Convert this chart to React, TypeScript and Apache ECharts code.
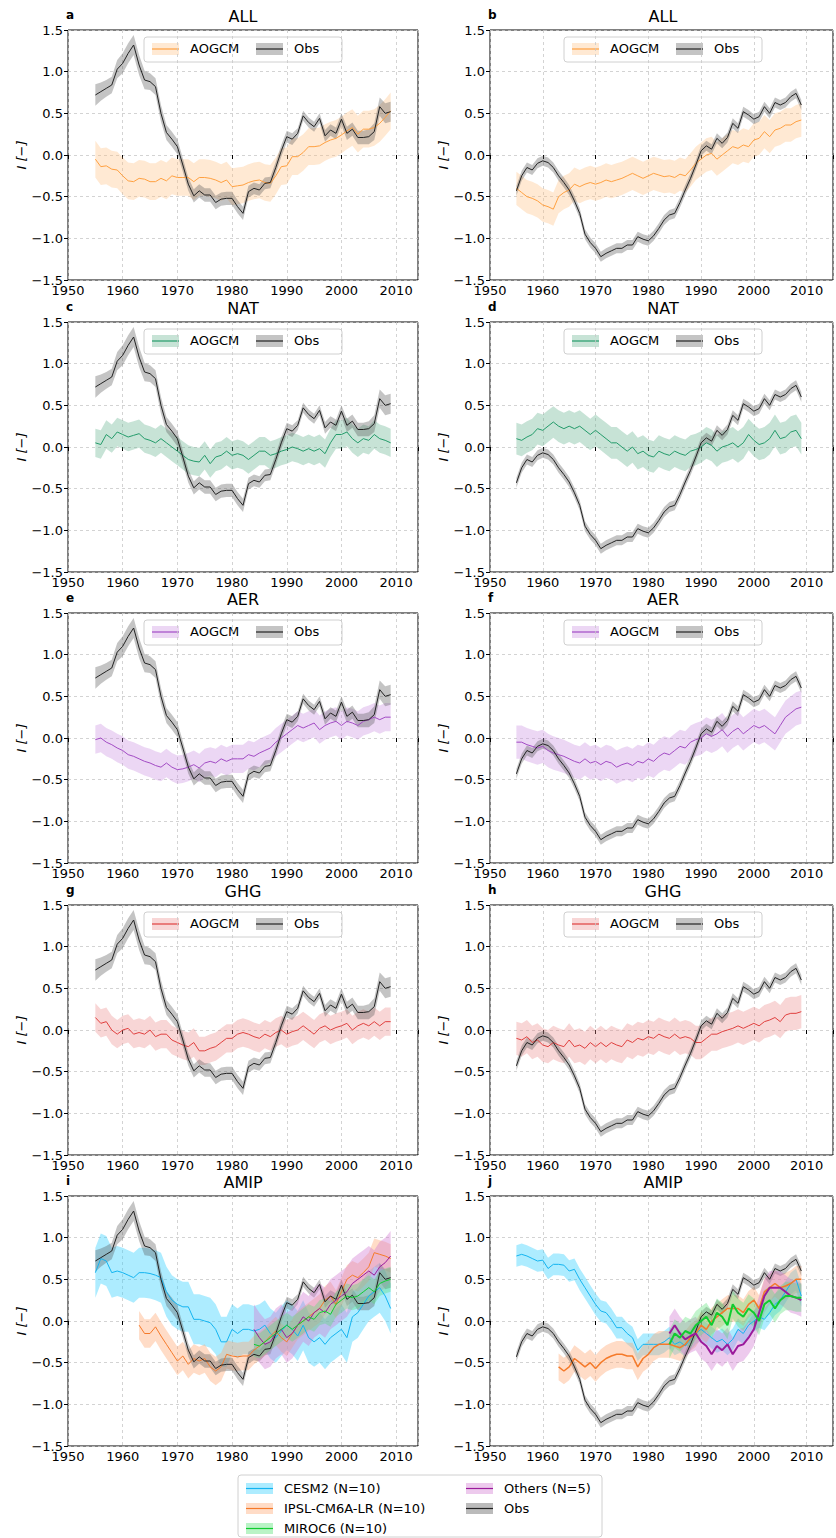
import React, { useEffect, useRef } from "react";
import * as echarts from "echarts";

const START = 1955;
// Observations (left column panels a,c,e,g,i and right column b,d,f,h,j)
const obsLeft = [0.72, 0.76, 0.8, 0.84, 1.03, 1.1, 1.22, 1.32, 1.08, 0.9, 0.88, 0.82, 0.5, 0.27, 0.19, 0.1, -0.12, -0.35, -0.49, -0.43, -0.48, -0.48, -0.57, -0.53, -0.52, -0.52, -0.62, -0.7, -0.44, -0.4, -0.42, -0.34, -0.33, -0.15, 0.05, 0.22, 0.19, 0.26, 0.47, 0.39, 0.34, 0.44, 0.23, 0.3, 0.26, 0.43, 0.26, 0.31, 0.21, 0.21, 0.22, 0.28, 0.58, 0.5, 0.52];
const obsLeftHalf = [0.13, 0.11, 0.1, 0.1, 0.11, 0.12, 0.12, 0.12, 0.12, 0.11, 0.1, 0.1, 0.1, 0.09, 0.09, 0.09, 0.08, 0.08, 0.08, 0.08, 0.08, 0.08, 0.08, 0.08, 0.08, 0.08, 0.08, 0.08, 0.07, 0.07, 0.07, 0.07, 0.07, 0.07, 0.07, 0.07, 0.07, 0.06, 0.06, 0.06, 0.06, 0.06, 0.07, 0.07, 0.07, 0.07, 0.08, 0.08, 0.08, 0.08, 0.09, 0.1, 0.11, 0.12, 0.12];
const obsRight = [-0.43, -0.25, -0.15, -0.18, -0.1, -0.07, -0.09, -0.15, -0.25, -0.33, -0.42, -0.55, -0.7, -0.95, -1.05, -1.12, -1.22, -1.18, -1.15, -1.12, -1.12, -1.08, -1.08, -0.98, -1.01, -1.03, -0.97, -0.88, -0.78, -0.72, -0.7, -0.57, -0.42, -0.28, -0.12, 0.05, 0.11, 0.07, 0.2, 0.14, 0.21, 0.38, 0.32, 0.52, 0.48, 0.43, 0.46, 0.58, 0.5, 0.63, 0.6, 0.63, 0.7, 0.74, 0.6];
const OBS_RIGHT_HALF = 0.06;

// AOGCM ensemble means
const allLeft = [-0.05, -0.14, -0.13, -0.17, -0.18, -0.25, -0.31, -0.32, -0.28, -0.29, -0.32, -0.32, -0.28, -0.31, -0.25, -0.27, -0.27, -0.27, -0.32, -0.27, -0.27, -0.28, -0.3, -0.33, -0.3, -0.38, -0.37, -0.36, -0.33, -0.31, -0.3, -0.33, -0.34, -0.25, -0.14, -0.13, -0.02, -0.02, 0.03, 0.1, 0.1, 0.11, 0.15, 0.18, 0.2, 0.24, 0.29, 0.33, 0.25, 0.31, 0.31, 0.33, 0.38, 0.45, 0.53];
const allRight = [-0.4, -0.45, -0.5, -0.52, -0.55, -0.6, -0.62, -0.65, -0.5, -0.45, -0.42, -0.35, -0.38, -0.35, -0.33, -0.35, -0.33, -0.3, -0.32, -0.3, -0.28, -0.25, -0.22, -0.25, -0.28, -0.25, -0.22, -0.24, -0.26, -0.25, -0.27, -0.23, -0.25, -0.18, -0.1, -0.05, 0, 0.02, -0.05, 0, 0.05, 0.1, 0.08, 0.12, 0.1, 0.18, 0.2, 0.28, 0.22, 0.3, 0.32, 0.36, 0.36, 0.4, 0.42];
const natLeft = [0.05, 0.03, 0.15, 0.1, 0.18, 0.15, 0.12, 0.14, 0.16, 0.1, 0.08, 0.05, 0.1, 0.05, 0, -0.05, -0.1, -0.15, -0.17, -0.18, -0.1, -0.2, -0.12, -0.1, -0.05, -0.1, -0.08, -0.1, -0.15, -0.1, -0.05, -0.05, -0.1, -0.08, -0.05, -0.03, 0, -0.02, -0.05, -0.02, -0.05, -0.02, -0.08, 0.05, 0.15, 0.15, 0.18, 0.1, 0.05, 0.1, 0.08, 0.15, 0.1, 0.08, 0.05];
const natRight = [0.1, 0.08, 0.12, 0.15, 0.22, 0.2, 0.25, 0.3, 0.25, 0.22, 0.25, 0.22, 0.25, 0.2, 0.15, 0.2, 0.15, 0.1, 0.05, 0.05, 0, -0.05, 0, -0.08, -0.05, -0.1, -0.12, -0.05, -0.08, -0.1, -0.05, -0.08, -0.1, -0.05, -0.03, 0, 0.05, 0.02, -0.05, 0, 0.02, 0.05, 0, 0.05, 0.15, 0.08, 0.03, 0.05, 0.1, 0.2, 0.1, 0.12, 0.18, 0.2, 0.1];
const aerLeft = [-0.02, 0, -0.05, -0.08, -0.12, -0.15, -0.2, -0.22, -0.25, -0.28, -0.3, -0.33, -0.35, -0.3, -0.35, -0.38, -0.37, -0.35, -0.32, -0.36, -0.3, -0.28, -0.3, -0.25, -0.28, -0.25, -0.25, -0.25, -0.2, -0.22, -0.18, -0.15, -0.12, -0.05, 0, 0.05, 0.1, 0.15, 0.12, 0.15, 0.18, 0.1, 0.15, 0.18, 0.2, 0.15, 0.2, 0.18, 0.15, 0.2, 0.22, 0.25, 0.22, 0.25, 0.25];
const aerRight = [-0.05, -0.05, -0.08, -0.1, -0.12, -0.1, -0.15, -0.18, -0.2, -0.22, -0.25, -0.28, -0.3, -0.25, -0.3, -0.28, -0.32, -0.28, -0.3, -0.35, -0.32, -0.3, -0.33, -0.28, -0.3, -0.25, -0.28, -0.22, -0.18, -0.2, -0.15, -0.1, -0.12, -0.05, -0.02, 0, 0.05, 0.02, 0.05, 0.1, 0.02, 0.08, 0.12, 0.05, 0.1, 0.15, 0.12, 0.15, 0.1, 0.05, 0.15, 0.25, 0.3, 0.35, 0.37];
const ghgLeft = [0.15, 0.08, 0.1, 0, -0.05, 0, 0.02, -0.05, -0.03, -0.05, 0, -0.08, -0.05, -0.05, -0.12, -0.15, -0.18, -0.2, -0.15, -0.25, -0.25, -0.22, -0.2, -0.15, -0.1, -0.1, -0.05, -0.03, -0.05, -0.08, -0.1, -0.05, -0.08, -0.03, 0, -0.05, -0.02, 0, 0.05, 0, -0.05, 0.02, 0.05, 0, 0.03, 0.05, 0.08, 0, 0.05, 0.08, 0.05, 0.1, 0.05, 0.1, 0.1];
const ghgRight = [-0.1, -0.12, -0.08, -0.15, -0.12, -0.18, -0.2, -0.15, -0.18, -0.2, -0.12, -0.2, -0.18, -0.22, -0.15, -0.2, -0.15, -0.2, -0.15, -0.18, -0.2, -0.12, -0.15, -0.1, -0.12, -0.08, -0.1, -0.05, -0.08, -0.1, -0.05, -0.1, -0.08, -0.1, -0.15, -0.15, -0.1, -0.05, -0.05, -0.02, 0, 0.02, 0.05, 0.02, 0.05, 0.08, 0.05, 0.1, 0.12, 0.15, 0.1, 0.18, 0.2, 0.2, 0.22];

// AMIP ensembles
const cesmLeft = [0.58, 0.75, 0.72, 0.58, 0.6, 0.58, 0.55, 0.52, 0.58, 0.58, 0.57, 0.55, 0.52, 0.35, 0.25, 0.2, 0.17, 0.17, 0.02, 0.02, 0, -0.02, -0.1, -0.25, -0.25, -0.1, -0.15, -0.1, -0.1, -0.12, -0.1, -0.05, -0.15, -0.2, -0.12, -0.05, -0.1, -0.18, -0.05, -0.2, -0.25, -0.2, -0.28, -0.2, -0.15, -0.1, -0.2, 0.05, 0.1, 0.2, 0.3, 0.35, 0.4, 0.3, 0.15];
const ipslLeft = [-0.05, -0.15, -0.15, -0.07, -0.18, -0.28, -0.38, -0.48, -0.42, -0.52, -0.45, -0.48, -0.45, -0.55, -0.6, -0.55, -0.4, -0.42, -0.43, -0.42, -0.42, -0.35, -0.3, -0.25, -0.18, -0.12, -0.2, -0.25, -0.15, -0.05, 0, 0.05, 0.1, 0.15, 0.25, 0.3, 0.2, 0.35, 0.5, 0.55, 0.52, 0.58, 0.65, 0.82, 0.8, 0.78, 0.75];
const mirocLeft = [-0.28, -0.3, -0.25, -0.2, -0.15, -0.1, -0.05, -0.1, -0.05, 0, 0.05, 0.02, 0.1, 0.12, 0.08, 0.2, 0.25, 0.3, 0.28, 0.3, 0.35, 0.4, 0.35, 0.45, 0.48, 0.5];
const othersLeft = [-0.1, -0.2, -0.28, -0.25, -0.15, -0.1, -0.2, -0.15, -0.05, 0.05, 0, 0.1, 0.15, 0.1, 0.2, 0.25, 0.3, 0.35, 0.45, 0.5, 0.55, 0.6, 0.55, 0.65, 0.7, 0.78];
const cesmRight = [0.78, 0.8, 0.78, 0.75, 0.72, 0.73, 0.63, 0.68, 0.68, 0.67, 0.6, 0.62, 0.5, 0.4, 0.3, 0.2, 0.12, 0.1, 0.02, -0.08, -0.08, -0.15, -0.2, -0.35, -0.28, -0.28, -0.28, -0.28, -0.25, -0.2, -0.28, -0.25, -0.3, -0.22, -0.15, -0.1, -0.15, -0.2, -0.25, -0.22, -0.28, -0.22, -0.1, -0.15, -0.05, 0, 0.05, 0.02, 0.1, 0.2, 0.25, 0.35, 0.45, 0.5, 0.3];
const ipslRight = [-0.55, -0.6, -0.55, -0.45, -0.5, -0.55, -0.5, -0.57, -0.5, -0.45, -0.42, -0.4, -0.4, -0.42, -0.42, -0.55, -0.45, -0.4, -0.32, -0.28, -0.28, -0.28, -0.3, -0.32, -0.28, -0.2, -0.15, -0.05, -0.1, 0, 0.05, 0.1, 0.15, 0.15, 0.15, 0.1, 0.2, 0.25, 0.15, 0.35, 0.4, 0.45, 0.4, 0.42, 0.45, 0.5, 0.5];
const mirocRight = [-0.28, -0.15, -0.2, -0.12, -0.15, -0.05, 0, 0.05, -0.05, 0.1, 0.05, -0.05, 0.2, 0.1, 0.05, 0.15, 0.1, 0, 0.2, 0.25, 0.15, 0.25, 0.3, 0.3, 0.28, 0.28];
const othersRight = [-0.15, -0.05, -0.15, -0.22, -0.18, -0.15, -0.25, -0.3, -0.4, -0.3, -0.35, -0.28, -0.4, -0.3, -0.28, -0.2, -0.1, 0.1, 0.3, 0.4, 0.4, 0.4, 0.35, 0.3, 0.28, 0.25];

const yTicks = [-1.5, -1.0, -0.5, 0.0, 0.5, 1.0, 1.5];

type S = { start: number; mean: number[]; half: number | number[]; line: string; band: string; op: number; w?: number };

const COL = {
  all: { line: "#ffa040", band: "#ffc080" },
  nat: { line: "#239b6a", band: "#5fae8a" },
  aer: { line: "#a24bc4", band: "#c88be0" },
  ghg: { line: "#e0403f", band: "#ec8a8a" },
  cesm: { line: "#14b4f0", band: "#33d0ff" },
  ipsl: { line: "#f57a2a", band: "#ffa872" },
  miroc: { line: "#10cc30", band: "#50e070" },
  others: { line: "#9b1a9b", band: "#d27ad2" },
  obs: { line: "#222222", band: "#555555" },
};

const obsL = (): S => ({ start: START, mean: obsLeft, half: obsLeftHalf, line: COL.obs.line, band: COL.obs.band, op: 0.35 });
const obsR = (): S => ({ start: START, mean: obsRight, half: OBS_RIGHT_HALF, line: COL.obs.line, band: COL.obs.band, op: 0.35 });
const aog = (mean: number[], c: { line: string; band: string }, half: number): S => ({ start: START, mean, half, line: c.line, band: c.band, op: 0.35 });

const panels: { letter: string; title: string; series: S[]; legend: boolean }[] = [
  { letter: "a", title: "ALL", series: [aog(allLeft, COL.all, 0.22), obsL()], legend: true },
  { letter: "b", title: "ALL", series: [aog(allRight, COL.all, 0.2), obsR()], legend: true },
  { letter: "c", title: "NAT", series: [aog(natLeft, COL.nat, 0.17), obsL()], legend: true },
  { letter: "d", title: "NAT", series: [aog(natRight, COL.nat, 0.19), obsR()], legend: true },
  { letter: "e", title: "AER", series: [aog(aerLeft, COL.aer, 0.17), obsL()], legend: true },
  { letter: "f", title: "AER", series: [aog(aerRight, COL.aer, 0.2), obsR()], legend: true },
  { letter: "g", title: "GHG", series: [aog(ghgLeft, COL.ghg, 0.17), obsL()], legend: true },
  { letter: "h", title: "GHG", series: [aog(ghgRight, COL.ghg, 0.2), obsR()], legend: true },
  {
    letter: "i", title: "AMIP", legend: false, series: [
      { start: START, mean: cesmLeft, half: 0.3, line: COL.cesm.line, band: COL.cesm.band, op: 0.4 },
      { start: 1963, mean: ipslLeft, half: 0.17, line: COL.ipsl.line, band: COL.ipsl.band, op: 0.4 },
      obsL(),
      { start: 1984, mean: othersLeft, half: 0.3, line: COL.others.line, band: COL.others.band, op: 0.4 },
      { start: 1984, mean: mirocLeft, half: 0.15, line: COL.miroc.line, band: COL.miroc.band, op: 0.35 },
    ],
  },
  {
    letter: "j", title: "AMIP", legend: false, series: [
      { start: START, mean: cesmRight, half: 0.13, line: COL.cesm.line, band: COL.cesm.band, op: 0.4 },
      { start: 1963, mean: ipslRight, half: 0.16, line: COL.ipsl.line, band: COL.ipsl.band, op: 0.4, w: 1.5 },
      obsR(),
      { start: 1984, mean: othersRight, half: 0.2, line: COL.others.line, band: COL.others.band, op: 0.4, w: 2 },
      { start: 1984, mean: mirocRight, half: 0.17, line: COL.miroc.line, band: COL.miroc.band, op: 0.35, w: 2 },
    ],
  },
];

const FONT = "DejaVu Sans";
const TOPS = [30, 322, 613, 905, 1196];
const LEFTS = [68, 490];
const WIDTHS = [350, 346];
const XMAX = [2014, 2015];
const H = 250;

export default function App() {
  const ref = useRef<HTMLDivElement | null>(null);

  useEffect(() => {
    const chart = echarts.init(ref.current!, null, { renderer: "svg" });
    const grid: any[] = [], xAxis: any[] = [], yAxis: any[] = [], series: any[] = [], graphic: any[] = [];

    panels.forEach((p, k) => {
      const col = k % 2, row = Math.floor(k / 2);
      const left = LEFTS[col], top = TOPS[row], w = WIDTHS[col];
      grid.push({ left, top, width: w, height: H, show: true, borderColor: "#000", borderWidth: 1, backgroundColor: "transparent" });
      const split = { show: true, lineStyle: { color: "#c8c8c8", type: [3, 3], width: 0.8 } };
      xAxis.push({
        gridIndex: k, type: "value", min: 1950, max: XMAX[col], interval: 10,
        axisLine: { show: false }, axisTick: { show: true, length: 4, lineStyle: { color: "#000" } },
        axisLabel: { fontFamily: FONT, fontSize: 13, color: "#000", margin: 4, formatter: (v: number) => (v % 10 === 0 ? String(v) : "") },
        splitLine: split,
      });
      yAxis.push({
        gridIndex: k, type: "value", min: -1.5, max: 1.5, interval: 0.5,
        name: "I [\u2212]", nameLocation: "middle", nameGap: 40,
        nameTextStyle: { fontFamily: FONT, fontSize: 13, fontStyle: "italic", color: "#000" },
        axisLine: { show: false }, axisTick: { show: true, length: 4, lineStyle: { color: "#000" } },
        axisLabel: { fontFamily: FONT, fontSize: 13, color: "#000", margin: 5, formatter: (v: number) => (yTicks.includes(v) ? v.toFixed(1).replace("-", "\u2212") : "") },
        splitLine: split,
      });
      p.series.forEach((s) => {
        const lo: number[][] = [], hi: number[][] = [];
        s.mean.forEach((m, i) => {
          const h = Array.isArray(s.half) ? s.half[i] : s.half;
          lo.push([s.start + i, m - h]);
          hi.push([s.start + i, m + h]);
        });
        series.push({
          type: "custom", xAxisIndex: k, yAxisIndex: k, data: [[s.start, s.mean[0]]], silent: true,
          renderItem: (_params: any, api: any) => {
            const pts = hi.map((d) => api.coord(d)).concat(lo.slice().reverse().map((d) => api.coord(d)));
            return { type: "polygon", shape: { points: pts }, style: { fill: s.band, opacity: s.op } };
          },
        });
        series.push({
          type: "line", xAxisIndex: k, yAxisIndex: k, showSymbol: false, silent: true,
          data: s.mean.map((m, i) => [s.start + i, m]),
          lineStyle: { color: s.line, width: s.w ?? 1 }, itemStyle: { color: s.line },
        });
      });

      const cx = left + w / 2;
      graphic.push({ type: "text", x: cx, y: top - 22, style: { text: p.title, font: `16px "${FONT}"`, fill: "#000", textAlign: "center" } });
      graphic.push({ type: "text", x: left - 2, y: top - 21, style: { text: p.letter, font: `bold 12px "${FONT}"`, fill: "#000" } });

      if (p.legend) {
        const lx = cx - 99, ly = top + 7;
        const a = p.series[0];
        graphic.push({ type: "rect", shape: { x: lx, y: ly, width: 198, height: 25, r: 3 }, style: { fill: "rgba(255,255,255,0.8)", stroke: "#d0d0d0", lineWidth: 1 } });
        const item = (x: number, s: S, label: string) => {
          graphic.push({ type: "rect", shape: { x, y: ly + 6, width: 27, height: 12 }, style: { fill: s.band, opacity: s.op } });
          graphic.push({ type: "line", shape: { x1: x, y1: ly + 12, x2: x + 27, y2: ly + 12 }, style: { stroke: s.line, lineWidth: 1.2 } });
          graphic.push({ type: "text", x: x + 38, y: ly + 5, style: { text: label, font: `13px "${FONT}"`, fill: "#000" } });
        };
        item(lx + 8, a, "AOGCM");
        item(lx + 112, p.series[1], "Obs");
      }
    });

    // bottom legend
    const bx = 238, by = 1475;
    graphic.push({ type: "rect", shape: { x: bx, y: by, width: 364, height: 62, r: 3 }, style: { fill: "#fff", stroke: "#d0d0d0", lineWidth: 1 } });
    const bItems: [number, number, { line: string; band: string }, string][] = [
      [bx + 8, by + 8, COL.cesm, "CESM2 (N=10)"],
      [bx + 8, by + 28, COL.ipsl, "IPSL-CM6A-LR (N=10)"],
      [bx + 8, by + 48, COL.miroc, "MIROC6 (N=10)"],
      [bx + 228, by + 8, COL.others, "Others (N=5)"],
      [bx + 228, by + 28, COL.obs, "Obs"],
    ];
    bItems.forEach(([x, y, c, label]) => {
      graphic.push({ type: "rect", shape: { x, y, width: 27, height: 11 }, style: { fill: c.band, opacity: 0.4 } });
      graphic.push({ type: "line", shape: { x1: x, y1: y + 5.5, x2: x + 27, y2: y + 5.5 }, style: { stroke: c.line, lineWidth: 1.2 } });
      graphic.push({ type: "text", x: x + 38, y: y - 1, style: { text: label, font: `13px "${FONT}"`, fill: "#000" } });
    });

    chart.setOption({ animation: false, backgroundColor: "#fff", grid, xAxis, yAxis, series, graphic });
    return () => chart.dispose();
  }, []);

  return <div ref={ref} style={{ width: 836, height: 1538, position: "absolute", left: 0, top: 0 }} />;
}
